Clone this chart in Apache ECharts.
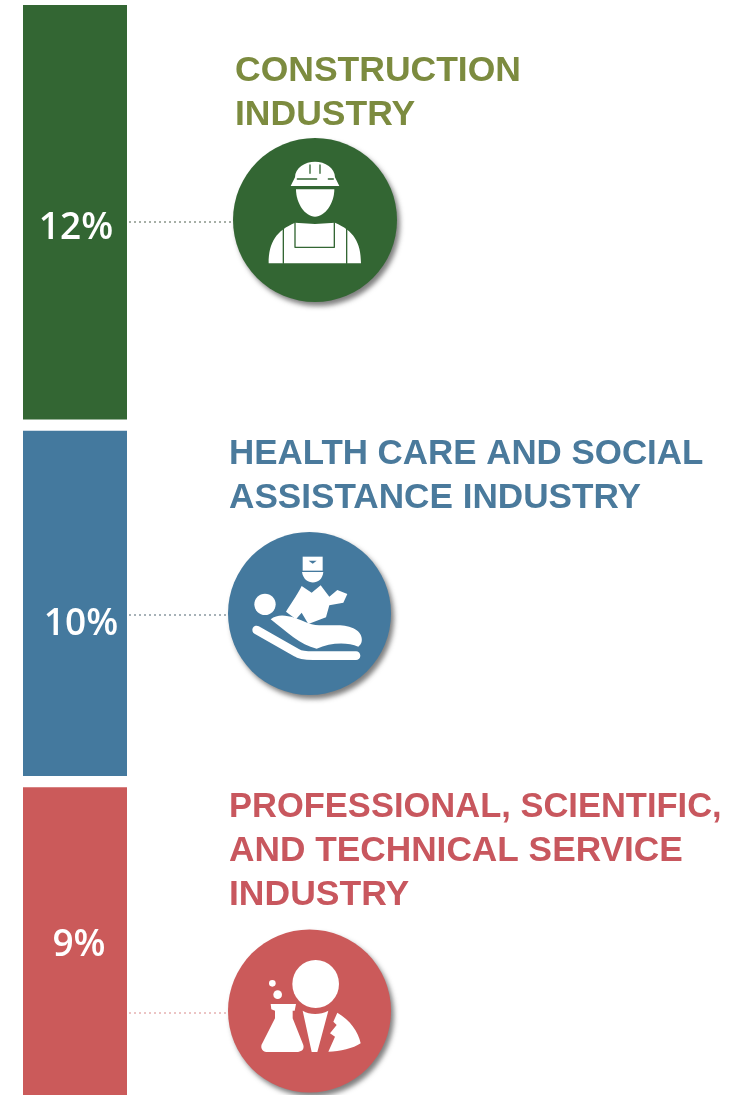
<!DOCTYPE html>
<html><head><meta charset="utf-8">
<style>html,body{margin:0;padding:0;background:#fff}#c{width:747px;height:1095px}</style>
<script src="https://cdn.jsdelivr.net/npm/echarts@6/dist/echarts.min.js"></script>
</head><body><div id="c"></div>
<script>
const industries = ['Construction', 'Health care and social assistance', 'Professional, scientific, and technical service'];
const shares = [12, 10, 9];
const shareLabels = ['12%', '10%', '9%'];
const titleLines = [
  ['CONSTRUCTION', 'INDUSTRY'],
  ['HEALTH CARE AND SOCIAL', 'ASSISTANCE INDUSTRY'],
  ['PROFESSIONAL, SCIENTIFIC,', 'AND TECHNICAL SERVICE', 'INDUSTRY']
];
const titleSquash = [[1, 1], [0.983, 0.99], [0.972, 0.993, 1]];
const barColors = ['#336633', '#44799e', '#cb5a5a'];
const titleColors = ['#7c8b3f', '#4a7a9c', '#c8575e'];
const gapValue = 0.32;
const labelOffsets = [[1, 16], [6, 21], [4, 4]];
const titleX = [235, 229, 229];
const titleY = [71.5, 454, 807];
const discs = [[315, 220, 82], [309.5, 613.5, 81.5], [309.5, 1011, 81.5]];
const leaderY = [222, 615, 1013];
const leaderColors = ['#4f5f4f', '#4f6470', '#d98a8a'];

const W = '#ffffff';
const icons = [
  { y: 0, bg: barColors[0], parts: [
    { d: 'M885 532C885 503 915 485 945 485C975 485 1005 503 1005 532L1018 558L872 558Z', fill: W },
    { d: 'M892 537L950 537M985 537L1000 537M930 495L930 520M960 495L960 520', stroke: barColors[0], w: 4 },
    { d: 'M888 568L1003 568C1003 610 975 650 945 650C915 650 888 610 888 568Z', fill: W },
    { d: 'M806 790C806 725 830 692 885 668L945 672L1005 668C1060 692 1083 725 1083 790Z', fill: W },
    { d: 'M850 682L850 790M1040 682L1040 790M885 668L885 742L1003 742L1003 668', stroke: barColors[0], w: 4 }
  ]},
  { y: 410, bg: barColors[1], parts: [
    { d: 'M763 583A32 32 0 1 0 827 583A32 32 0 1 0 763 583Z', fill: W },
    { d: 'M812 628C840 605 880 620 925 640C965 655 1020 635 1060 655C1090 668 1092 700 1075 710C1040 695 990 698 950 716C900 705 860 665 812 628Z', fill: W },
    { d: 'M770 660L890 728C900 736 920 737 940 737L1068 737', stroke: W, w: 26 },
    { d: 'M908 440L968 440L968 482L908 482Z', fill: W },
    { d: 'M926 452L950 452L938 461Z', fill: barColors[1] },
    { d: 'M906 486L970 486C966 528 912 528 906 486Z', fill: W },
    { d: 'M905 528C890 558 870 585 858 605L888 628L905 608L925 642L978 622L988 586L1030 578L1042 552L1012 540L988 560L962 526L935 548Z', fill: W }
  ]},
  { y: 770, bg: barColors[2], parts: [
    { d: 'M877 642A70 72 0 1 0 1017 642A70 72 0 1 0 877 642Z', fill: W },
    { d: 'M908 722C930 735 960 735 985 722L952 846L935 846Z', fill: W },
    { d: 'M1012 728C1050 750 1075 785 1082 820C1060 835 1020 845 985 845L1005 800L990 790L1010 765L1000 755Z', fill: W },
    { d: 'M812 702L888 702L884 722L878 722L878 745L910 825C914 840 902 846 890 846L800 846C785 846 780 830 787 820L825 745L825 722L814 718Z', fill: W },
    { d: 'M807 640A10 10 0 1 0 827 640A10 10 0 1 0 807 640Z', fill: W },
    { d: 'M820 674A13 13 0 1 0 846 674A13 13 0 1 0 820 674Z', fill: W }
  ]}
];

function renderAnnotations() {
  const children = [];
  shares.forEach((_, i) => {
    children.push({ type: 'line', shape: { x1: 129, y1: leaderY[i], x2: discs[i][0] - discs[i][2], y2: leaderY[i] },
      style: { stroke: leaderColors[i], lineWidth: 1, lineDash: [2, 3] } });
    children.push({ type: 'circle', shape: { cx: discs[i][0], cy: discs[i][1], r: discs[i][2] },
      style: { fill: barColors[i], shadowColor: 'rgba(60,60,60,0.65)', shadowBlur: 5, shadowOffsetX: 3, shadowOffsetY: 4 } });
    children.push({ type: 'group', x: 0, y: icons[i].y, scaleX: 1 / 3, scaleY: 1 / 3,
      children: icons[i].parts.map(p => ({ type: 'path', shape: { pathData: p.d },
        style: p.stroke ? { fill: 'none', stroke: p.stroke, lineWidth: p.w, lineCap: 'round', lineJoin: 'round' } : { fill: p.fill } })) });
    titleLines[i].forEach((line, j) => {
      children.push({ type: 'text', x: titleX[i], y: titleY[i] + j * 44, scaleX: titleSquash[i][j],
        style: { text: line, fill: titleColors[i], font: 'bold 35.5px "Liberation Sans"', textAlign: 'left', textVerticalAlign: 'middle' } });
    });
  });
  return { type: 'group', children };
}

const barSeries = [];
shares.forEach((v, i) => {
  barSeries.push({ name: industries[i], type: 'bar', stack: 'share', barWidth: '100%', data: [v],
    itemStyle: { color: barColors[i] }, silent: true,
    label: { show: true, position: 'inside', offset: labelOffsets[i], formatter: shareLabels[i],
      color: '#fff', fontFamily: 'Open Sans', fontWeight: 600, fontSize: 37 } });
  if (i < shares.length - 1) {
    barSeries.push({ name: 'gap' + i, type: 'bar', stack: 'share', data: [gapValue], silent: true,
      itemStyle: { color: 'rgba(0,0,0,0)' } });
  }
});

const chart = echarts.init(document.getElementById('c'), null, { renderer: 'canvas' });
chart.setOption({
  animation: false,
  backgroundColor: '#fff',
  grid: { left: 23, width: 104, top: 5, height: 1090 },
  xAxis: { type: 'category', data: ['Share'], show: false },
  yAxis: { type: 'value', inverse: true, min: 0, max: 31.55, show: false },
  series: barSeries.concat([{ type: 'custom', coordinateSystem: 'none', data: [0], silent: true, clip: false,
    renderItem: renderAnnotations, z: 5 }])
});
</script></body></html>
